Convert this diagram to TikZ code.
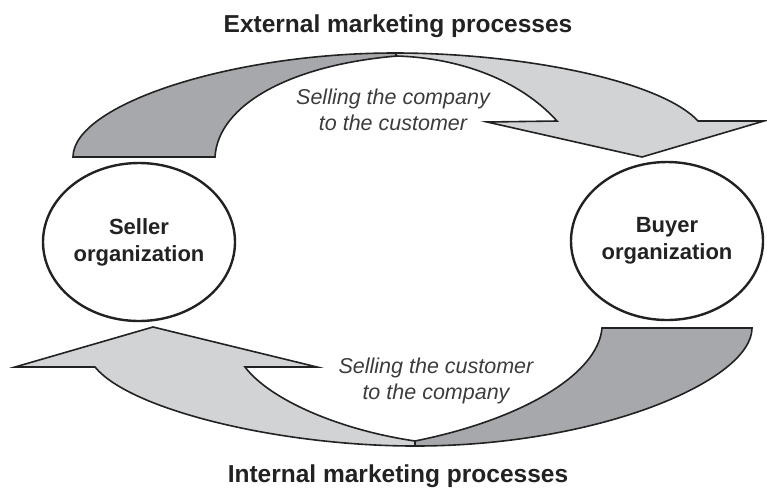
\documentclass[tikz,border=0pt]{standalone}
\usepackage{fontspec}
\setmainfont{Liberation Sans}
\usepackage{tikz}
\usetikzlibrary{shapes.geometric}
\definecolor{bandDark}{HTML}{A7A8AB}
\definecolor{bandLight}{HTML}{D2D3D5}
\definecolor{inkDark}{HTML}{222222}
\definecolor{inkSoft}{HTML}{3C3C3C}

\begin{document}
\begin{tikzpicture}[x=1pt, y=-1pt,
  orgnode/.style={ellipse, draw=inkDark, line width=2.4pt, minimum width=192pt, minimum height=158pt,
    inner sep=0pt, align=center, font=\fontsize{22}{27}\selectfont\bfseries, text=inkDark},
  band/.style={draw=inkDark, line width=1.6pt, line join=miter},
  proclabel/.style={font=\fontsize{24.5}{28}\selectfont\bfseries, text=inkDark, anchor=base},
  flowlabel/.style={align=center, font=\fontsize{21.5}{26}\selectfont\itshape, text=inkSoft}]
  \useasboundingbox (0,0) rectangle (767,488);

  % Upper loop (seller -> buyer)
  \filldraw[band, fill=bandDark] (73,157) .. controls (73,105) and (230,53) .. (395,53)
    -- (397,56) .. controls (290,65) and (218,105) .. (215,157) -- cycle;
  \filldraw[band, fill=bandLight] (395,53) .. controls (520,53) and (660,80) .. (698,121)
    -- (764,121) -- (642,157) -- (487,122) -- (557,121)
    .. controls (520,80) and (460,58) .. (397,56) -- cycle;

  % Lower loop (buyer -> seller)
  \filldraw[band, fill=bandDark] (602,328) -- (752,328) .. controls (752,380) and (600,446) .. (415,446)
    -- (415,441) .. controls (520,420) and (598,375) .. (602,328) -- cycle;
  \filldraw[band, fill=bandLight] (415,446) .. controls (280,446) and (130,410) .. (95,367)
    -- (15,367) -- (153,327) -- (317,367) -- (245,367)
    .. controls (270,400) and (340,430) .. (415,441) -- cycle;

  % Organizations
  \node[orgnode] (seller) at (139,242) {Seller\\organization};
  \node[orgnode] (buyer) at (667,241) {Buyer\\organization};

  % Labels
  \node[proclabel] (external) at (398,32) {External marketing processes};
  \node[proclabel] (internal) at (398,482) {Internal marketing processes};
  \node[flowlabel] (sellcompany) at (393,110) {Selling the company\\to the customer};
  \node[flowlabel] (sellcustomer) at (436,381) {Selling the customer\\to the company};
\end{tikzpicture}
\end{document}
